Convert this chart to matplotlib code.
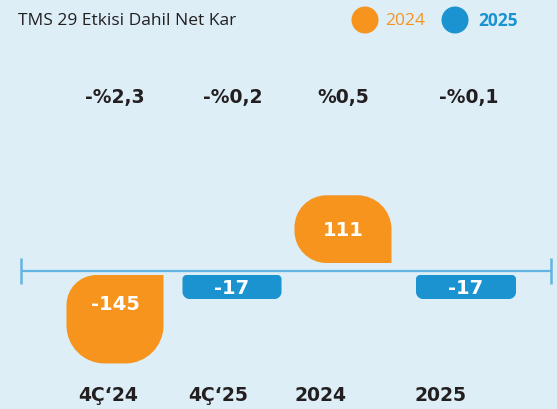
import matplotlib
matplotlib.use("Agg")
import matplotlib.pyplot as plt
from matplotlib.path import Path
from matplotlib.patches import PathPatch, Ellipse

# ---- data ----
categories = ["4Ç‘24", "4Ç‘25", "2024", "2025"]
values = [-145, -17, 111, -17]
series = ["2024", "2025", "2024", "2025"]
value_labels = ["-145", "-17", "111", "-17"]
pct_labels = ["-%2,3", "-%0,2", "%0,5", "-%0,1"]
title = "TMS 29 Etkisi Dahil Net Kar"
legend_labels = ["2024", "2025"]

# ---- style / layout ----
W, H = 557, 410
BG = "#ddeef7"
COLORS = {"2024": "#f7941d", "2025": "#1a93d0"}
AXIS_C = "#62b5e2"
DARK = "#231f20"
K = 0.61             # pixels per value unit
AXIS_PX = 272        # axis row from top
bar_cx = [115, 232, 343, 466]
bar_w = [97, 99, 97, 100]
cat_x = [108, 218, 321, 440]
pct_x = [115, 233, 343, 469]

fig = plt.figure(figsize=(W / 100, H / 100), dpi=100)
fig.patch.set_facecolor(BG)
ax = fig.add_axes([0, 0, 1, 1])
ax.set_facecolor(BG)
ax.set_xlim(0, W)
ax.set_ylim(-(H - AXIS_PX) / K, AXIS_PX / K)
ax.axis("off")

KAPPA = 0.5523


def rounded_bar(x0, x1, y0, y1, r_tl, r_tr, r_br, r_bl):
    """Rectangle with per-corner radii given in pixels (x units = px)."""
    def ry(r):
        return r / K
    verts, codes = [], []
    verts.append((x0 + r_bl, y0)); codes.append(Path.MOVETO)
    verts.append((x1 - r_br, y0)); codes.append(Path.LINETO)
    if r_br:
        p0 = (x1 - r_br, y0); p3 = (x1, y0 + ry(r_br)); c = (x1, y0)
        verts += [(p0[0] + KAPPA * (c[0] - p0[0]), p0[1]),
                  (p3[0], p3[1] + KAPPA * (c[1] - p3[1])), p3]
        codes += [Path.CURVE4] * 3
    verts.append((x1, y1 - ry(r_tr))); codes.append(Path.LINETO)
    if r_tr:
        p0 = (x1, y1 - ry(r_tr)); p3 = (x1 - r_tr, y1); c = (x1, y1)
        verts += [(p0[0], p0[1] + KAPPA * (c[1] - p0[1])),
                  (p3[0] + KAPPA * (c[0] - p3[0]), p3[1]), p3]
        codes += [Path.CURVE4] * 3
    verts.append((x0 + r_tl, y1)); codes.append(Path.LINETO)
    if r_tl:
        p0 = (x0 + r_tl, y1); p3 = (x0, y1 - ry(r_tl)); c = (x0, y1)
        verts += [(p0[0] + KAPPA * (c[0] - p0[0]), p0[1]),
                  (p3[0], p3[1] + KAPPA * (c[1] - p3[1])), p3]
        codes += [Path.CURVE4] * 3
    verts.append((x0, y0 + ry(r_bl))); codes.append(Path.LINETO)
    if r_bl:
        p0 = (x0, y0 + ry(r_bl)); p3 = (x0 + r_bl, y0); c = (x0, y0)
        verts += [(p0[0], p0[1] + KAPPA * (c[1] - p0[1])),
                  (p3[0] + KAPPA * (c[0] - p3[0]), p3[1]), p3]
        codes += [Path.CURVE4] * 3
    verts.append((x0 + r_bl, y0)); codes.append(Path.CLOSEPOLY)
    return Path(verts, codes)


MIN_H = 24 / K        # minimum bar height (value units) so labels fit
GAP_POS = 8 / K
GAP_NEG = 4 / K

for i, v in enumerate(values):
    h = max(abs(v), MIN_H)
    x0 = bar_cx[i] - bar_w[i] / 2
    x1 = bar_cx[i] + bar_w[i] / 2
    big = abs(v) > MIN_H
    if v >= 0:
        y0, y1 = GAP_POS, GAP_POS + h
        radii = (32, 34, 0, 32) if big else (6, 6, 6, 6)
        ly = (y0 + y1) / 2
    else:
        y0, y1 = -GAP_NEG - h, -GAP_NEG
        radii = (30, 0, 38, 38) if big else (4, 4, 7, 7)
        ly = y1 - 28 / K if big else (y0 + y1) / 2
    ax.add_patch(PathPatch(rounded_bar(x0, x1, y0, y1, *radii),
                           facecolor=COLORS[series[i]], edgecolor="none"))
    ax.text(bar_cx[i], ly, value_labels[i], color="white", fontsize=14,
            fontweight="bold", ha="center", va="center",
            family="DejaVu Sans")

# axis line with end ticks
ax.plot([21, 551], [0, 0], color=AXIS_C, lw=1.6, solid_capstyle="butt")
for xe in (21, 551):
    ax.plot([xe, xe], [-13 / K, 13 / K], color=AXIS_C, lw=1.8,
            solid_capstyle="butt")


def fx(px):
    return px / W


def fy(py):
    return 1 - py / H


# percent row
for x, t in zip(pct_x, pct_labels):
    fig.text(fx(x), fy(97), t, fontsize=13.5, fontweight="bold", color=DARK,
             ha="center", va="center", family="DejaVu Sans")

# category labels
for x, t in zip(cat_x, categories):
    fig.text(fx(x), fy(396), t, fontsize=13.5, fontweight="bold", color=DARK,
             ha="center", va="center", family="DejaVu Sans")

# title
fig.text(fx(18), fy(21), title, fontsize=12.5, color=DARK, ha="left",
         va="center", family="Open Sans")

# legend
leg_cx = [365, 455]
leg_tx = [385, 478]
for j, lab in enumerate(legend_labels):
    fig.add_artist(Ellipse((fx(leg_cx[j]), fy(21)), 27 / W, 27 / H,
                           transform=fig.transFigure,
                           facecolor=COLORS[lab], edgecolor="none"))
    fig.text(fx(leg_tx[j]), fy(21), lab, fontsize=12.5, color=COLORS[lab],
             ha="left", va="center", family="Open Sans",
             fontweight="bold" if j == 1 else "normal")

fig.savefig("out.png", dpi=100, facecolor=BG)
